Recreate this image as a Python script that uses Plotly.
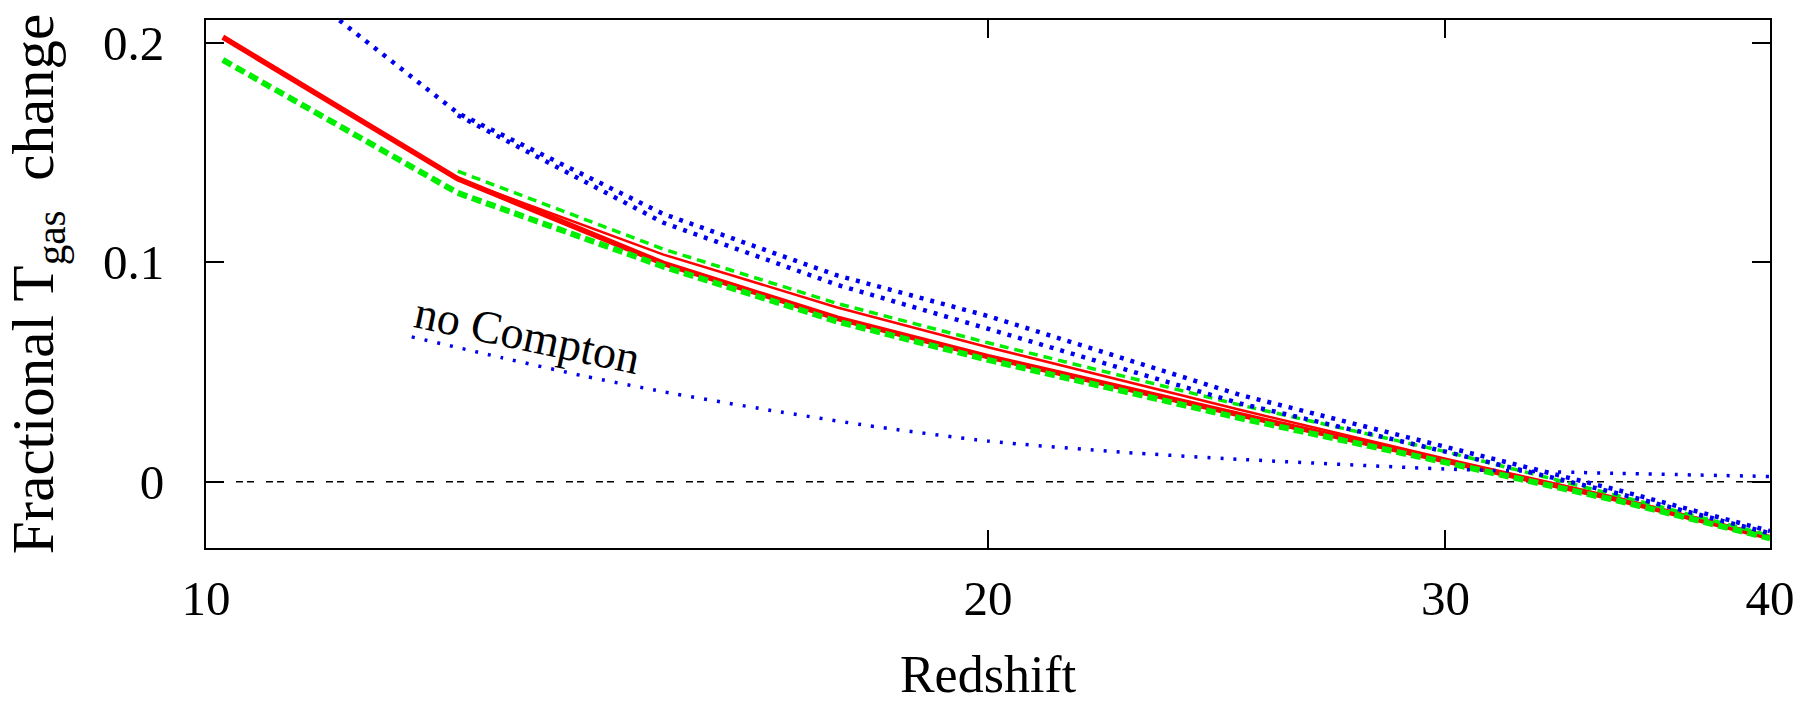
import math
import plotly.graph_objects as go

# ---- data ----
z_thick = [10.15, 12.5, 15, 17.5, 20, 25, 30, 35, 40]
red_thick = [0.2026, 0.138, 0.0995, 0.0745, 0.057, 0.0305, 0.0095, -0.0083, -0.0255]
green_thick = [0.1922, 0.1316, 0.098, 0.073, 0.0555, 0.029, 0.0088, -0.0088, -0.0258]

z_thin = [12.5, 15, 17.5, 20, 25, 30, 35, 40]
red_thin = [0.138, 0.1035, 0.0794, 0.0613, 0.0328, 0.0105, -0.0075, -0.025]
green_thin = [0.1415, 0.106, 0.0812, 0.0633, 0.035, 0.0137, -0.0065, -0.0245]
blue_thin = [0.167, 0.118, 0.0897, 0.0697, 0.0357, 0.0137, -0.0055, -0.0235]

z_blue = [11, 12.5, 15, 17.5, 20, 25, 30, 35, 40]
blue_thick = [0.2195, 0.168, 0.122, 0.094, 0.0755, 0.0396, 0.0159, -0.004, -0.0225]

z_nocompton = [12, 13, 14, 15, 16.5, 18, 20, 22.5, 25, 30, 35, 40]
no_compton = [0.066, 0.0565, 0.048, 0.041, 0.0325, 0.0255, 0.0185, 0.0135, 0.0102, 0.0058, 0.0038, 0.0024]

x_ticks = [10, 20, 30, 40]
x_ticklabels = ["10", "20", "30", "40"]
y_ticks = [0, 0.1, 0.2]
y_ticklabels = ["0", "0.1", "0.2"]

label_pos = (13.3, 0.0665)

FONT = "Liberation Serif, Times New Roman, serif"
RED = "#ff0000"
GREEN = "#00ee00"
BLUE = "#0000ee"

fig = go.Figure()

fig.add_trace(go.Scatter(x=z_thick, y=red_thick, mode="lines",
                         line=dict(color=RED, width=5.5)))
fig.add_trace(go.Scatter(x=z_thin, y=red_thin, mode="lines",
                         line=dict(color=RED, width=2.5)))
fig.add_trace(go.Scatter(x=z_thick, y=green_thick, mode="lines",
                         line=dict(color=GREEN, width=6, dash="10px,5px")))
fig.add_trace(go.Scatter(x=z_thin, y=green_thin, mode="lines",
                         line=dict(color=GREEN, width=3.5, dash="9px,6px")))
fig.add_trace(go.Scatter(x=z_blue, y=blue_thick, mode="lines",
                         line=dict(color=BLUE, width=4.5, dash="4px,7px")))
fig.add_trace(go.Scatter(x=z_thin, y=blue_thin, mode="lines",
                         line=dict(color=BLUE, width=4.5, dash="4px,7px")))
fig.add_trace(go.Scatter(x=z_nocompton, y=no_compton, mode="lines",
                         line=dict(color=BLUE, width=3.5, dash="3px,10px", shape="spline",
                                   smoothing=0.6)))

fig.add_shape(type="line", xref="paper", x0=0, x1=1, yref="y", y0=0, y1=0,
              line=dict(color="black", width=1.5, dash="7px,4px,7px,12px"),
              layer="below")

fig.add_annotation(x=math.log10(label_pos[0]), y=label_pos[1], xref="x", yref="y",
                   text="no Compton", showarrow=False, textangle=12,
                   font=dict(family=FONT, size=46, color="black"),
                   xanchor="center", yanchor="middle")

axis_common = dict(showgrid=False, zeroline=False, showline=True, mirror="ticks",
                   linecolor="black", linewidth=2, ticks="inside", ticklen=18,
                   tickwidth=2, tickcolor="black",
                   tickfont=dict(family=FONT, size=49, color="black"))

fig.update_xaxes(type="log", range=[1, math.log10(40)], tickvals=x_ticks,
                 ticktext=x_ticklabels, ticklabelstandoff=6,
                 title=dict(text="Redshift", font=dict(family=FONT, size=52, color="black"),
                            standoff=36),
                 **axis_common)
fig.update_yaxes(range=[-0.0302, 0.2104], tickvals=y_ticks, ticktext=y_ticklabels,
                 ticklabelstandoff=30,
                 title=dict(text="Fractional T<sub>gas</sub>  change",
                            font=dict(family=FONT, size=59, color="black"), standoff=32),
                 **axis_common)

fig.update_layout(width=1810, height=703, showlegend=False,
                  margin=dict(l=206, r=40, t=20, b=155, autoexpand=False),
                  paper_bgcolor="white", plot_bgcolor="white")

fig.write_html("out.html")
